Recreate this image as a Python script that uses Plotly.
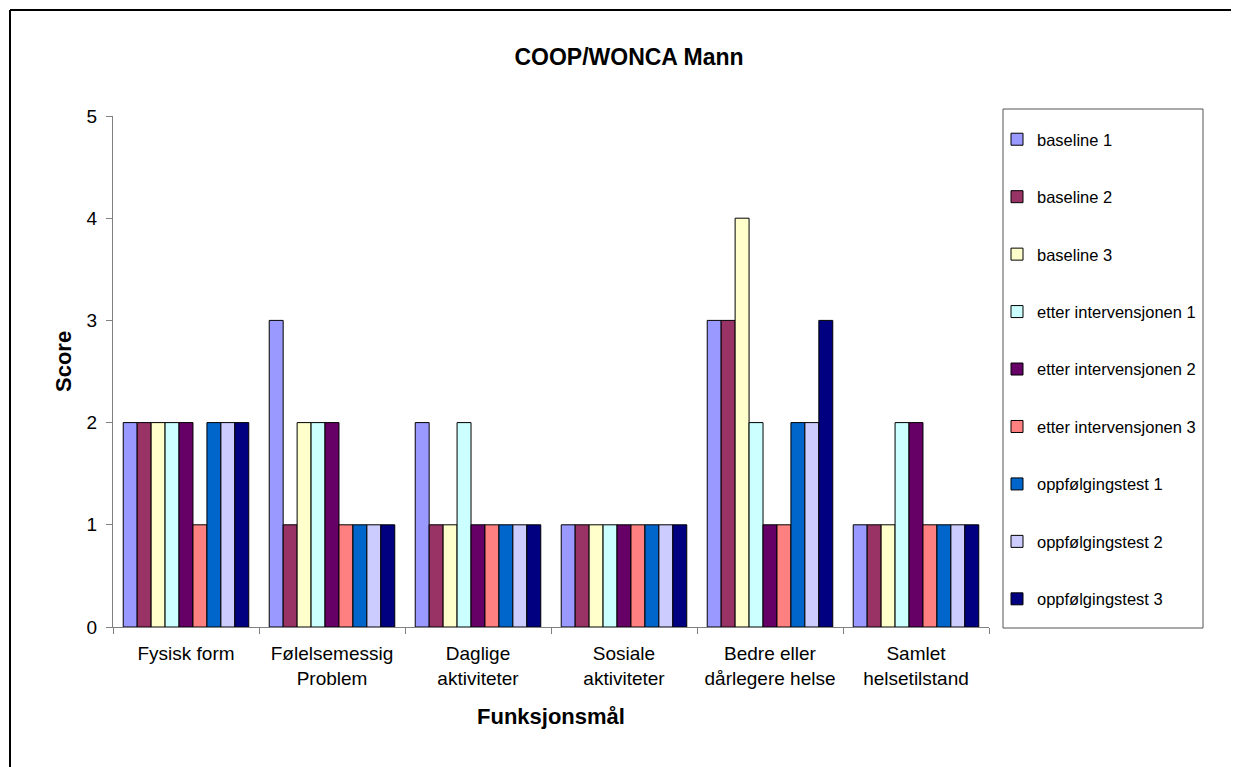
import plotly.graph_objects as go

categories = ["Fysisk form", "Følelsemessig<br>Problem", "Daglige<br>aktiviteter",
              "Sosiale<br>aktiviteter", "Bedre eller<br>dårlegere helse", "Samlet<br>helsetilstand"]

series_names = ["baseline 1", "baseline 2", "baseline 3",
                "etter intervensjonen 1", "etter intervensjonen 2", "etter intervensjonen 3",
                "oppfølgingstest 1", "oppfølgingstest 2", "oppfølgingstest 3"]

baseline_1 = [2, 3, 2, 1, 3, 1]
baseline_2 = [2, 1, 1, 1, 3, 1]
baseline_3 = [2, 2, 1, 1, 4, 1]
etter_1 = [2, 2, 2, 1, 2, 2]
etter_2 = [2, 2, 1, 1, 1, 2]
etter_3 = [1, 1, 1, 1, 1, 1]
oppf_1 = [2, 1, 1, 1, 2, 1]
oppf_2 = [2, 1, 1, 1, 2, 1]
oppf_3 = [2, 1, 1, 1, 3, 1]

series_values = [baseline_1, baseline_2, baseline_3, etter_1, etter_2, etter_3, oppf_1, oppf_2, oppf_3]
colors = ["#9999FF", "#993366", "#FFFFCC", "#CCFFFF", "#660066", "#FF8080", "#0066CC", "#CCCCFF", "#000080"]

FONT = "Liberation Sans, Arial, sans-serif"

fig = go.Figure()
for i, (name, vals, col) in enumerate(zip(series_names, series_values, colors)):
    fig.add_trace(go.Bar(
        x=categories, y=vals, name=name,
        marker=dict(color=col, line=dict(color="black", width=1)),
        legendgroup=f"g{i}",
    ))

# page offset (browser body margin)
OX, OY = 8, 8
W, H = 1239 - OX, 767 - OY
# plot area in page pixels
L, R, T, B = 113 - OX, 989 - OX, 116 - OY, 627 - OY
pw, ph = R - L, B - T

def px_x(x):  # page pixel -> paper x
    return (x - OX - L) / pw

def px_y(y):  # page pixel -> paper y
    return (B - (y - OY)) / ph

shapes = [
    # outer chart border (top and left visible)
    dict(type="line", xref="paper", yref="paper", x0=px_x(10), x1=px_x(1300), y0=px_y(10), y1=px_y(10),
         line=dict(color="black", width=2)),
    dict(type="line", xref="paper", yref="paper", x0=px_x(10), x1=px_x(10), y0=px_y(10), y1=px_y(800),
         line=dict(color="black", width=2)),
    # legend box
    dict(type="rect", xref="paper", yref="paper", x0=px_x(1003), x1=px_x(1203), y0=px_y(628), y1=px_y(109),
         line=dict(color="#555555", width=1), fillcolor="rgba(0,0,0,0)"),
]

annotations = [
    dict(text="<b>Funksjonsmål</b>", xref="paper", yref="paper", x=px_x(551), y=px_y(716),
         xanchor="center", yanchor="middle", showarrow=False,
         font=dict(family=FONT, size=22, color="black")),
    dict(text="<b>Score</b>", xref="paper", yref="paper", x=px_x(63), y=px_y(362),
         xanchor="center", yanchor="middle", showarrow=False, textangle=-90,
         font=dict(family=FONT, size=22, color="black")),
]

fig.update_layout(
    width=W, height=H,
    margin=dict(l=L, r=W - R, t=T, b=H - B, pad=0),
    paper_bgcolor="white", plot_bgcolor="white",
    barmode="group", bargap=0.14, bargroupgap=0,
    font=dict(family=FONT, size=19, color="black"),
    title=dict(text="<b>COOP/WONCA Mann</b>", x=(629 - OX) / W, xref="container", xanchor="center",
               y=1 - (57 - OY) / H, yref="container", yanchor="middle",
               font=dict(family=FONT, size=23, color="black")),
    showlegend=True,
    legend=dict(x=px_x(997), y=px_y(122), xanchor="left", yanchor="top",
                bgcolor="rgba(0,0,0,0)", borderwidth=0,
                font=dict(family=FONT, size=16.5, color="black"),
                traceorder="grouped", tracegroupgap=33, itemwidth=30,
                maxheight=720, itemclick=False),
    shapes=shapes,
    annotations=annotations,
    xaxis=dict(
        showline=True, linecolor="#808080", linewidth=1,
        ticks="outside", tickson="boundaries", ticklen=6, tickcolor="#808080",
        showgrid=False, zeroline=False,
        ticklabelstandoff=9,
        tickfont=dict(family=FONT, size=19, color="black"),
    ),
    yaxis=dict(
        range=[0, 5], dtick=1, tick0=0,
        showline=True, linecolor="#808080", linewidth=1,
        ticks="outside", ticklen=6, tickcolor="#808080",
        showgrid=False, zeroline=False,
        ticklabelstandoff=5,
        tickfont=dict(family=FONT, size=19, color="black"),
    ),
)

fig.write_html("out.html")
